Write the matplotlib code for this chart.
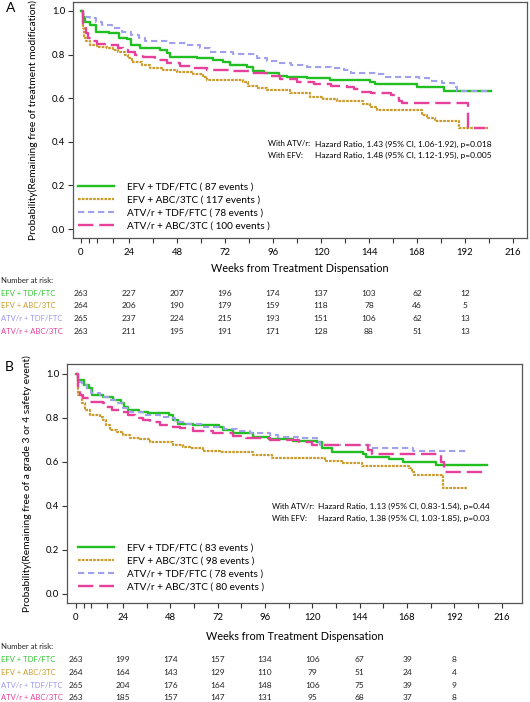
import matplotlib
matplotlib.use("Agg")
import matplotlib.pyplot as plt
import matplotlib.transforms as mtransforms

plt.rcParams['font.family'] = ['Lato', 'DejaVu Sans']

# ---------------- Data ----------------
series_names = ["EFV + TDF/FTC", "EFV + ABC/3TC", "ATV/r + TDF/FTC", "ATV/r + ABC/3TC"]
events_A = [87, 117, 78, 100]
events_B = [83, 98, 78, 80]

# Panel A (treatment modification) Kaplan-Meier step points
A_efv_tdf_t = [0, 1, 2, 4.5, 7.3, 14, 19, 23, 25, 29.5, 39.5, 43, 44.5, 58, 66, 71, 74.5, 83, 86, 91.5, 99, 103, 112.8, 124.5, 144.5, 147, 168, 181.3, 204.8]
A_efv_tdf_s = [1.0, 0.97, 0.95, 0.936, 0.905, 0.898, 0.875, 0.87, 0.844, 0.829, 0.821, 0.806, 0.79, 0.783, 0.775, 0.768, 0.752, 0.742, 0.726, 0.714, 0.704, 0.699, 0.691, 0.683, 0.676, 0.665, 0.653, 0.633, 0.633]

A_efv_abc_t = [0, 1, 1.5, 2.5, 4.5, 7.8, 12.8, 16, 18.7, 22, 23.7, 25.3, 30.3, 34.5, 41.2, 48, 56, 61, 63, 81, 83.7, 88, 93, 104.5, 114.5, 121, 127.8, 141, 144.5, 148, 170.3, 173, 177, 189, 203.5]
A_efv_abc_s = [1.0, 0.92, 0.875, 0.86, 0.844, 0.836, 0.829, 0.821, 0.813, 0.798, 0.783, 0.768, 0.752, 0.737, 0.729, 0.722, 0.711, 0.699, 0.683, 0.676, 0.656, 0.648, 0.638, 0.622, 0.607, 0.596, 0.589, 0.573, 0.558, 0.546, 0.523, 0.508, 0.497, 0.462, 0.462]

A_atv_tdf_t = [0, 1, 2, 4.5, 7.3, 10.7, 15.7, 20.7, 24.8, 29, 32, 44.5, 52.8, 59.5, 64.5, 76, 88, 93, 99, 105, 113, 125, 131.5, 135, 148.5, 152, 168.8, 173.8, 180.5, 186.3, 188, 204.5]
A_atv_tdf_s = [1.0, 0.985, 0.974, 0.966, 0.951, 0.936, 0.921, 0.905, 0.89, 0.875, 0.864, 0.855, 0.844, 0.829, 0.813, 0.801, 0.783, 0.771, 0.763, 0.752, 0.745, 0.737, 0.729, 0.717, 0.71, 0.699, 0.691, 0.679, 0.668, 0.65, 0.635, 0.635]

A_atv_abc_t = [0, 0.8, 2.5, 3.7, 5.3, 7.8, 14.5, 18.7, 21.2, 23.7, 27, 31, 37, 43, 49.5, 56, 63, 74.5, 84.5, 94.5, 99.5, 108, 116.5, 124.8, 133, 136.5, 139.8, 144.8, 154.8, 157.3, 159, 160.7, 193.7, 202]
A_atv_abc_s = [1.0, 0.921, 0.898, 0.875, 0.86, 0.849, 0.844, 0.829, 0.821, 0.811, 0.798, 0.788, 0.775, 0.76, 0.749, 0.74, 0.729, 0.725, 0.714, 0.702, 0.69, 0.676, 0.665, 0.657, 0.65, 0.641, 0.63, 0.622, 0.615, 0.599, 0.587, 0.579, 0.462, 0.462]

# Panel B (grade 3/4 safety event)
B_efv_tdf_t = [0, 1.3, 4.3, 6.8, 8.5, 13.6, 18.7, 22.9, 24.6, 26.3, 32.2, 36.5, 47.5, 49.2, 51.7, 59.3, 72.8, 74.5, 79.6, 89.7, 98.2, 110, 122.5, 125, 130.2, 145.5, 147.2, 159, 165.8, 182.7, 208.4]
B_efv_tdf_s = [1.0, 0.973, 0.95, 0.935, 0.905, 0.897, 0.882, 0.867, 0.851, 0.836, 0.829, 0.821, 0.814, 0.791, 0.773, 0.768, 0.761, 0.745, 0.73, 0.715, 0.703, 0.697, 0.692, 0.662, 0.645, 0.636, 0.624, 0.614, 0.601, 0.586, 0.586]

B_efv_abc_t = [0, 1.3, 3, 4.7, 7.2, 12.3, 14, 15.6, 17.4, 20.7, 24.1, 27.5, 32.6, 37.6, 49.5, 54.6, 57.9, 64.7, 73.2, 90, 99.5, 126.5, 135, 145.2, 169, 170.7, 171.5, 186.4, 198.3]
B_efv_abc_s = [1.0, 0.905, 0.867, 0.836, 0.814, 0.806, 0.791, 0.768, 0.745, 0.735, 0.723, 0.711, 0.703, 0.692, 0.677, 0.67, 0.662, 0.651, 0.645, 0.632, 0.62, 0.606, 0.594, 0.583, 0.571, 0.556, 0.541, 0.48, 0.48]

B_atv_tdf_t = [0, 1.3, 3, 5.5, 8, 12.3, 17.4, 21.6, 24.2, 27.5, 34.3, 42.8, 47.9, 50.4, 56.4, 64.8, 75, 81.8, 88.6, 98.7, 102.7, 112.9, 122.2, 124, 149, 171, 199]
B_atv_tdf_s = [1.0, 0.965, 0.95, 0.927, 0.912, 0.897, 0.882, 0.867, 0.844, 0.829, 0.814, 0.806, 0.798, 0.783, 0.773, 0.761, 0.75, 0.741, 0.73, 0.723, 0.715, 0.707, 0.692, 0.677, 0.662, 0.651, 0.651]

B_atv_abc_t = [0, 1.3, 2.1, 3.8, 7.2, 13.9, 15.6, 18.2, 23.3, 26.6, 30, 34.3, 37.6, 42.7, 49.5, 52.8, 59.6, 69.7, 79.9, 86.6, 98.5, 113, 119.7, 148, 150, 185.4, 187, 208.4]
B_atv_abc_s = [1.0, 0.935, 0.905, 0.89, 0.874, 0.867, 0.851, 0.836, 0.829, 0.814, 0.801, 0.791, 0.78, 0.768, 0.761, 0.753, 0.741, 0.73, 0.72, 0.708, 0.70, 0.692, 0.676, 0.655, 0.636, 0.601, 0.556, 0.556]

# Number at risk
risk_weeks = [0, 24, 48, 72, 96, 120, 144, 168, 192]
risk_A_efv_tdf = [263, 227, 207, 196, 174, 137, 103, 62, 12]
risk_A_efv_abc = [264, 206, 190, 179, 159, 118, 78, 46, 5]
risk_A_atv_tdf = [265, 237, 224, 215, 193, 151, 106, 62, 13]
risk_A_atv_abc = [263, 211, 195, 191, 171, 128, 88, 51, 13]
risk_B_efv_tdf = [263, 199, 174, 157, 134, 106, 67, 39, 8]
risk_B_efv_abc = [264, 164, 143, 129, 110, 79, 51, 24, 4]
risk_B_atv_tdf = [265, 204, 176, 164, 148, 106, 75, 39, 9]
risk_B_atv_abc = [263, 185, 157, 147, 131, 95, 68, 37, 8]

xtick_labels = [0, 24, 48, 72, 96, 120, 144, 168, 192, 216]
xtick_minor = [4, 8, 16, 36, 60, 84, 108, 132, 156, 180, 204]
ytick_vals = [0.0, 0.2, 0.4, 0.6, 0.8, 1.0]

hr_A = [("With ATV/r:", "Hazard Ratio, 1.43 (95% CI, 1.06-1.92), p=0.018"),
        ("With EFV:", "Hazard Ratio, 1.48 (95% CI, 1.12-1.95), p=0.005")]
hr_B = [("With ATV/r:", "Hazard Ratio, 1.13 (95% CI, 0.83-1.54), p=0.44"),
        ("With EFV:", "Hazard Ratio, 1.38 (95% CI, 1.03-1.85), p=0.03")]

# ---------------- Styles ----------------
colors = ['#22bf22', '#c99b2a', '#a0a0ec', '#e6409a']
label_colors = ['#33c733', '#c99b2a', '#9a9aea', '#e6409a']
styles = [dict(linestyle='-', lw=1.7),
          dict(linestyle=(0, (1.2, 0.5)), lw=1.6),
          dict(linestyle=(0, (3.0, 1.8)), lw=1.5),
          dict(linestyle=(0, (6.5, 2.5)), lw=1.7)]

W, H = 530, 702
fig = plt.figure(figsize=(W / 100, H / 100), dpi=100)


def fx(px):
    return px / W


def fy(py):
    return 1 - py / H


def panel(rect, xlim, ylim, curves, events, ylabel, letter, letter_xy, hr, hr_xy,
          risk, risk_ys, xlabel_y, legend_anchor):
    ax = fig.add_axes(rect)
    for i, (t, s) in enumerate(curves):
        ax.plot(t, s, drawstyle='steps-post', color=colors[i],
                label=f"{series_names[i]} ( {events[i]} events )", **styles[i])
    ax.set_xlim(*xlim)
    ax.set_ylim(*ylim)
    ax.set_xticks(xtick_labels)
    ax.set_xticklabels([str(v) for v in xtick_labels])
    ax.set_xticks(xtick_minor, minor=True)
    ax.set_yticks(ytick_vals)
    ax.set_yticklabels([f"{v:.1f}" for v in ytick_vals])
    for sp in ax.spines.values():
        sp.set_color('#555555')
        sp.set_linewidth(0.9)
    ax.tick_params(axis='both', which='both', direction='out', length=3.5, width=0.8,
                   color='#333333', labelsize=6.8, pad=2)
    ax.tick_params(axis='x', which='both', pad=4)
    ax.set_ylabel(ylabel, fontsize=7.4)
    ax.yaxis.set_label_coords(-0.077, 0.5)
    ax.set_xlabel("Weeks from Treatment Dispensation", fontsize=7.8)
    pos = ax.get_position()
    ax.xaxis.set_label_coords(0.5, (fy(xlabel_y) - pos.y0) / pos.height)
    ax.xaxis.label.set_va('center')

    ax.legend(loc='lower left', bbox_to_anchor=legend_anchor, frameon=False,
              fontsize=7.2, handlelength=3.6, handletextpad=1.3,
              labelspacing=0.42, borderpad=0, borderaxespad=0)

    fig.text(fx(letter_xy[0]), fy(letter_xy[1]), letter, fontsize=10, ha='center', va='center')

    for j, (a, b) in enumerate(hr):
        fig.text(fx(hr_xy[0]), fy(hr_xy[2] + j * hr_xy[3]), a, fontsize=5.6, va='center')
        fig.text(fx(hr_xy[1]), fy(hr_xy[2] + j * hr_xy[3]), b, fontsize=6.05, va='center')

    trans = mtransforms.blended_transform_factory(ax.transData, fig.transFigure)
    fig.text(fx(1), fy(risk_ys[0]), "Number at risk:", fontsize=5.6, va='center', color='#222222')
    for i, row in enumerate(risk):
        fig.text(fx(1), fy(risk_ys[i + 1]), series_names[i], fontsize=5.5, va='center',
                 color=label_colors[i])
        for wk, n in zip(risk_weeks, row):
            ax.text(wk, fy(risk_ys[i + 1]), str(n), transform=trans, fontsize=6.0,
                    ha='center', va='center', color='#222222')
    return ax


# Panel A
panel([fx(73), fy(238), fx(527) - fx(73), fy(2) - fy(238)], (-4, 223), (-0.041, 1.041),
      [(A_efv_tdf_t, A_efv_tdf_s), (A_efv_abc_t, A_efv_abc_s),
       (A_atv_tdf_t, A_atv_tdf_s), (A_atv_abc_t, A_atv_abc_s)],
      events_A, "Probability(Remaining free of treatment modification)", "A", (11, 8),
      hr_A, (268, 315, 144, 11.5),
      [risk_A_efv_tdf, risk_A_efv_abc, risk_A_atv_tdf, risk_A_atv_abc],
      [280, 293.3, 306, 318.7, 331.3], 268, (0.012, 0.03))

# Panel B
panel([fx(67), fy(603), fx(522) - fx(67), fy(364) - fy(603)], (-4.4, 226.3), (-0.041, 1.045),
      [(B_efv_tdf_t, B_efv_tdf_s), (B_efv_abc_t, B_efv_abc_s),
       (B_atv_tdf_t, B_atv_tdf_s), (B_atv_abc_t, B_atv_abc_s)],
      events_B, "Probability(Remaining free of a grade 3 or 4 safety event)", "B", (9, 367),
      hr_B, (271.7, 317.7, 506.7, 11.6),
      [risk_B_efv_tdf, risk_B_efv_abc, risk_B_atv_tdf, risk_B_atv_abc],
      [646.7, 659.7, 672.3, 685, 697.7], 636.7, (0.024, 0.047))

fig.savefig("out.png", dpi=100)
